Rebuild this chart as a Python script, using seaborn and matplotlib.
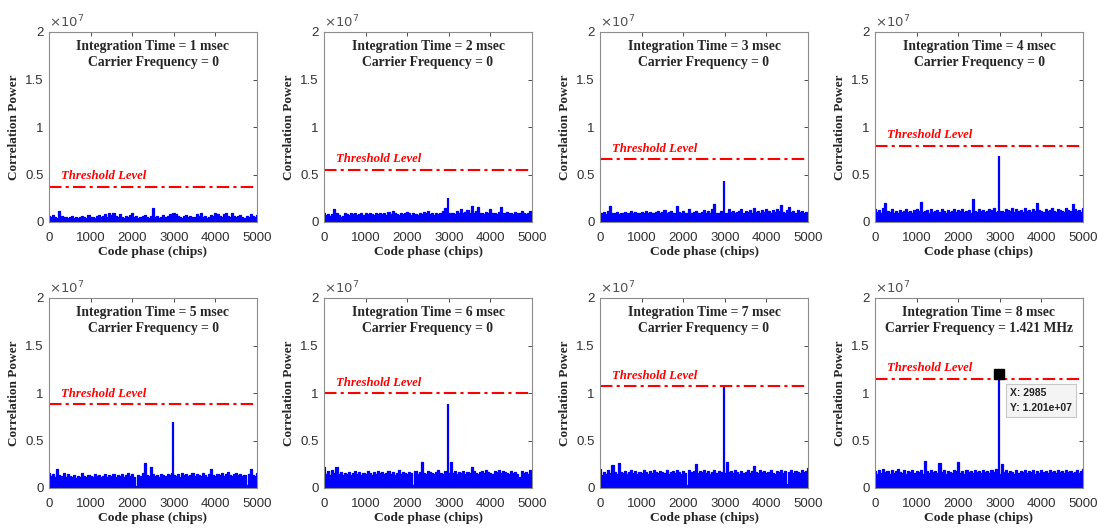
import numpy as np
import matplotlib
matplotlib.use("Agg")
import matplotlib.pyplot as plt
import seaborn as sns

# ---- data (correlation power, units of 1e5) ----
integration_ms = [1, 2, 3, 4, 5, 6, 7, 8]
carrier_labels = ["0", "0", "0", "0", "0", "0", "0", "1.421 MHz"]
threshold = [37, 55, 66, 80, 88, 99.5, 107, 115]
peak_x = 2985
peak_y = [10, 25, 43, 69, 70, 88, 106, 120.1]

noise1 = [6,5,7,5,4,12,6,5,5,4,5,6,4,5,4,5,6,5,4,7,5,5,4,6,7,5,6,8,5,9,
          7,9,6,5,8,5,4,6,5,7,9,5,6,4,5,6,7,5,4,6,15,5,6,4,5,7,5,6,8,5,
          10,8,6,5,4,6,7,5,6,5,5,8,6,9,5,6,4,5,7,6,9,8,6,5,8,9,6,5,9,6,
          5,6,7,5,4,6,5,8,6,5,7]
noise2 = [9,7,8,6,8,14,9,7,5,6,9,8,7,10,8,9,7,8,9,7,10,8,9,8,7,9,8,10,8,9,
          7,11,8,12,9,8,7,10,8,9,11,10,7,9,8,7,10,8,11,9,12,8,9,7,10,8,9,12,15,10,
          9,9,10,8,12,9,14,10,11,13,9,17,10,12,16,9,10,8,11,10,14,9,10,8,11,16,9,10,11,9,
          10,8,11,9,10,12,9,8,10,12,11]
noise3 = [10,9,11,8,12,17,10,9,11,8,10,9,11,10,9,12,10,11,9,10,11,9,12,10,11,9,10,11,12,9,
          11,13,10,11,12,9,10,17,11,10,12,10,9,14,10,11,12,9,10,11,13,10,12,9,14,19,10,9,12,11,
          10,10,14,11,12,10,11,12,14,10,12,11,13,10,15,11,12,10,13,11,14,12,10,13,11,14,12,18,11,10,
          13,16,11,12,10,13,11,12,10,11,10]
noise4 = [14,11,13,10,15,20,12,11,14,10,12,9,13,11,12,14,11,12,10,13,14,12,21,11,12,13,10,14,11,12,
          13,11,14,12,10,13,11,12,14,11,13,12,14,11,12,13,10,24,12,11,14,12,13,11,12,14,13,15,11,12,
          12,12,11,14,13,12,15,11,14,12,13,11,15,12,13,11,14,12,20,13,12,11,14,12,13,15,12,11,14,13,
          12,11,15,13,12,19,14,12,13,11,15]
noise5 = [16,13,15,12,20,14,13,16,12,15,13,12,14,11,13,12,16,13,12,14,13,12,15,13,14,12,13,15,12,14,
          13,15,12,14,13,15,12,14,16,13,15,12,2,14,13,16,26,14,13,22,15,13,14,12,15,14,13,15,14,16,
          14,13,15,12,16,14,15,13,14,16,13,15,14,13,16,14,12,15,20,14,13,15,14,16,13,15,17,14,13,15,
          16,14,15,13,14,3,15,20,14,13,16]
noise6 = [22,15,18,14,19,16,22,15,17,14,16,15,17,14,16,18,15,17,14,16,15,18,16,14,17,15,18,16,17,15,
          16,18,15,17,14,16,19,15,17,16,15,17,16,3,18,15,17,27,16,15,18,17,16,15,17,19,16,15,18,17,
          16,27,16,18,15,17,16,18,15,17,16,22,18,16,15,17,18,16,19,17,16,15,18,17,19,16,18,17,16,15,
          18,16,17,15,12,18,16,17,15,19,16]
noise7 = [20,14,17,15,19,16,24,17,15,26,17,16,18,15,17,19,16,18,15,17,16,19,17,15,18,16,19,17,16,18,
          17,16,19,15,17,18,16,19,17,15,18,16,3,19,17,18,25,16,18,17,19,16,18,15,17,19,16,18,17,16,
          16,27,17,18,16,19,17,15,18,16,17,19,16,18,23,17,16,19,17,18,16,17,19,16,15,18,17,19,16,18,
          4,17,19,16,18,17,16,19,17,18,21]
noise8 = [18,15,19,16,20,17,18,15,19,16,18,20,17,16,19,15,18,17,19,16,18,17,19,15,28,18,16,19,17,18,
          16,26,17,19,15,18,17,16,19,18,27,16,18,15,19,17,18,16,19,17,18,16,19,17,18,16,19,17,20,18,
          15,25,17,19,16,18,17,15,19,16,18,17,19,16,18,17,19,15,18,16,19,17,18,16,19,17,18,16,19,17,
          18,16,19,17,18,16,17,19,16,18,20]
noise_series = [noise1, noise2, noise3, noise4, noise5, noise6, noise7, noise8]

x_ticks = [0, 1000, 2000, 3000, 4000, 5000]
y_ticks = [0, 0.5, 1, 1.5, 2]
y_tick_labels = ["0", "0.5", "1", "1.5", "2"]

# ---- style ----
sns.set_style("white")
plt.rcParams["font.family"] = ["Liberation Sans", "DejaVu Sans"]
SERIF = ["Liberation Serif", "DejaVu Serif"]
BLUE = "#0000FF"

W, H = 1099, 529
fig = plt.figure(figsize=(W / 100, H / 100), dpi=100)

lefts = [49, 324, 600, 875]
tops = [32, 298]
aw, ah = 208, 190

for i in range(8):
    r, c = divmod(i, 4)
    ax = fig.add_axes([lefts[c] / W, 1 - (tops[r] + ah) / H, aw / W, ah / H])
    vals = noise_series[i]
    xs = np.linspace(0, 5000, len(vals))
    y = np.array(vals) / 100.0
    ax.fill_between(xs, 0, y, color=BLUE, linewidth=0, step="mid")
    sns.lineplot(x=xs, y=y, ax=ax, color=BLUE, linewidth=0.9, estimator=None,
                 sort=False, drawstyle="steps-mid")
    ax.vlines([peak_x], 0, [peak_y[i] / 100.0], color=BLUE, linewidth=1.6)
    sns.lineplot(x=[0, 5000], y=[threshold[i] / 100.0] * 2, ax=ax, color="#FF0000",
                 linewidth=1.5, linestyle=(0, (6, 2, 1.5, 2)))
    ax.text(300, threshold[i] / 100.0 + 0.05, "Threshold Level", color="#FF0000",
            fontsize=9.2, fontweight="bold", fontstyle="italic", family=SERIF, va="bottom")
    ax.text(0.5, 0.925, f"Integration Time = {integration_ms[i]} msec", transform=ax.transAxes,
            ha="center", va="center", fontsize=9.8, fontweight="bold", family=SERIF)
    ax.text(0.5, 0.838, f"Carrier Frequency = {carrier_labels[i]}", transform=ax.transAxes,
            ha="center", va="center", fontsize=9.8, fontweight="bold", family=SERIF)
    if i == 7:
        ax.plot([peak_x], [peak_y[i] / 100.0], marker="s", color="black", markersize=6.5)
        ax.annotate(f"X: {peak_x}\nY: 1.201e+07", xy=(peak_x, peak_y[i] / 100.0),
                    xytext=(8, -10), textcoords="offset points", va="top", ha="left",
                    fontsize=7.5, fontweight="bold", color="#222222", linespacing=1.6,
                    bbox=dict(boxstyle="square,pad=0.4", fc="#f4f4f4", ec="#c8c8c8", lw=0.8))
    ax.set_xlim(0, 5000)
    ax.set_ylim(0, 2)
    ax.set_xticks(x_ticks)
    ax.set_xticklabels([str(t) for t in x_ticks])
    ax.set_yticks(y_ticks)
    ax.set_yticklabels(y_tick_labels)
    ax.tick_params(direction="in", length=3, width=0.6, top=True, right=True,
                   labelsize=9.5, colors="#303030")
    ax.tick_params(axis="x", pad=7)
    ax.tick_params(axis="y", pad=4)
    for s in ax.spines.values():
        s.set_color("#8c8c8c")
        s.set_linewidth(0.8)
    ax.set_xlabel("Code phase (chips)", fontsize=9.7, fontweight="bold", family=SERIF,
                  color="#262626")
    ax.xaxis.set_label_coords(0.5, -0.125)
    ax.set_ylabel("Correlation Power", fontsize=9.5, fontweight="bold", family=SERIF,
                  color="#262626")
    ax.yaxis.set_label_coords(-0.14, 0.5)
    ax.text(0.0, 1.01, r"$\times10^7$", transform=ax.transAxes, ha="left", va="bottom",
            fontsize=9.5, color="#505050")

fig.savefig("out.png", dpi=100)
